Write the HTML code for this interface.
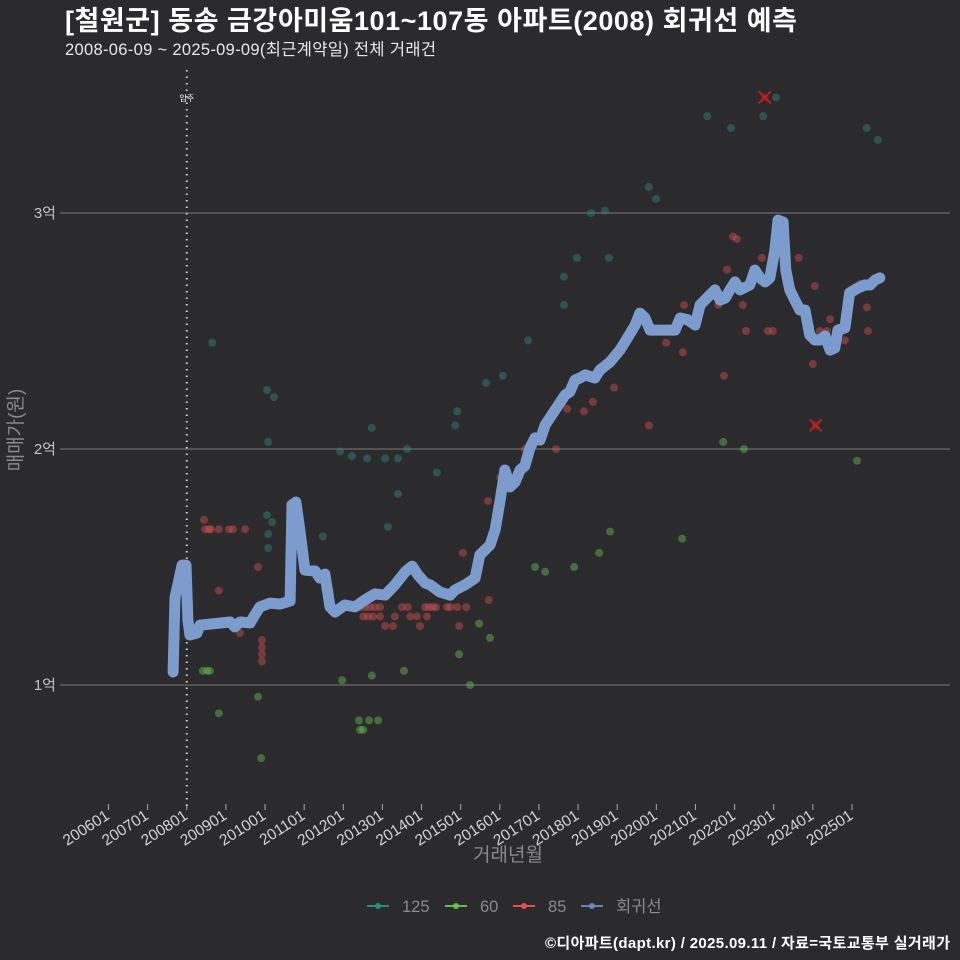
<!DOCTYPE html>
<html><head><meta charset="utf-8">
<style>
html,body{margin:0;padding:0;background:#2b2b2d;}
svg{display:block;font-family:"Liberation Sans","Noto Sans CJK KR",sans-serif;}
</style></head>
<body>
<svg id="chart" width="960" height="960" viewBox="0 0 960 960">
<rect width="960" height="960" fill="#2b2b2d"/>
<text x="65" y="30" fill="#ffffff" font-size="27" font-weight="bold" textLength="732">[철원군] 동송 금강아미움101~107동 아파트(2008) 회귀선 예측</text>
<text x="65" y="55" fill="#e8e8e8" font-size="16.5" textLength="371">2008-06-09 ~ 2025-09-09(최근계약일) 전체 거래건</text>
<g id="grid"></g>
<g id="yticks"></g>
<g id="xticks"></g>
<g id="marks"></g>
<text transform="translate(22,430) rotate(-90)" text-anchor="middle" fill="#8a8a8a" font-size="19">매매가(원)</text>
<text x="508" y="861" text-anchor="middle" fill="#8a8a8a" font-size="19">거래년월</text>
<g id="legend"></g>
<text x="950" y="948" text-anchor="end" fill="#ffffff" font-size="15" font-weight="bold" textLength="405">©디아파트(dapt.kr) / 2025.09.11 / 자료=국토교통부 실거래가</text>
</svg>
<script>
const yTicks=[1,2,3];
const yTickLabels=["1억","2억","3억"];
const xTicks=[2006,2007,2008,2009,2010,2011,2012,2013,2014,2015,2016,2017,2018,2019,2020,2021,2022,2023,2024,2025];
const xTickLabels=["200601","200701","200801","200901","201001","201101","201201","201301","201401","201501","201601","201701","201801","201901","202001","202101","202201","202301","202401","202501"];
const moveInYear=2008.0;
const lineX=[2007.65,2007.70,2007.88,2007.98,2008.03,2008.08,2008.26,2008.34,2009.11,2009.23,2009.36,2009.62,2009.74,2009.87,2010.13,2010.38,2010.64,2010.69,2010.79,2010.89,2011.02,2011.28,2011.40,2011.53,2011.66,2011.79,2012.04,2012.30,2012.55,2012.81,2013.07,2013.32,2013.58,2013.76,2013.91,2014.09,2014.22,2014.47,2014.73,2014.86,2015.11,2015.37,2015.49,2015.75,2015.88,2016.01,2016.13,2016.26,2016.39,2016.52,2016.64,2016.77,2016.90,2017.03,2017.16,2017.41,2017.67,2017.79,2017.92,2018.05,2018.18,2018.43,2018.56,2018.82,2019.07,2019.28,2019.46,2019.58,2019.71,2019.84,2020.22,2020.48,2020.61,2020.81,2020.99,2021.12,2021.37,2021.50,2021.63,2021.76,2021.88,2022.01,2022.14,2022.39,2022.52,2022.65,2022.78,2022.90,2023.03,2023.11,2023.24,2023.31,2023.41,2023.54,2023.67,2023.80,2023.92,2024.05,2024.18,2024.31,2024.44,2024.56,2024.64,2024.82,2024.94,2025.15,2025.33,2025.46,2025.59,2025.71];
const lineY=[1.055,1.369,1.508,1.508,1.275,1.212,1.220,1.254,1.267,1.246,1.267,1.263,1.297,1.331,1.347,1.343,1.356,1.763,1.775,1.657,1.487,1.483,1.453,1.470,1.331,1.309,1.339,1.331,1.360,1.386,1.381,1.424,1.479,1.504,1.466,1.432,1.424,1.394,1.381,1.403,1.424,1.453,1.551,1.593,1.657,1.784,1.911,1.839,1.860,1.911,1.928,2.004,2.047,2.038,2.102,2.165,2.229,2.242,2.292,2.301,2.314,2.301,2.335,2.369,2.419,2.475,2.525,2.576,2.555,2.504,2.504,2.504,2.555,2.547,2.525,2.610,2.653,2.674,2.631,2.640,2.674,2.708,2.674,2.695,2.758,2.725,2.708,2.725,2.843,2.970,2.962,2.758,2.674,2.631,2.589,2.589,2.483,2.462,2.462,2.479,2.419,2.428,2.504,2.513,2.661,2.682,2.695,2.695,2.716,2.725];
const s125X=[2008.65,2010.05,2010.23,2010.08,2010.05,2010.18,2010.08,2010.08,2011.48,2011.92,2012.22,2012.61,2012.73,2013.07,2013.14,2013.40,2013.40,2013.63,2014.39,2014.86,2014.91,2015.65,2016.08,2016.72,2017.64,2017.64,2017.97,2018.33,2018.69,2018.79,2019.81,2019.99,2021.30,2021.91,2022.73,2023.06,2025.38,2025.66];
const s125Y=[2.45,2.25,2.22,2.03,1.72,1.69,1.64,1.58,1.63,1.99,1.97,1.96,2.09,1.96,1.67,1.96,1.81,2.00,1.90,2.10,2.16,2.28,2.31,2.46,2.73,2.61,2.81,3.00,3.01,2.81,3.11,3.06,3.41,3.36,3.41,3.49,3.36,3.31];
const s60X=[2008.41,2008.52,2008.59,2008.82,2009.82,2009.90,2011.97,2012.40,2012.43,2012.51,2012.66,2012.73,2012.89,2013.55,2014.96,2015.24,2015.47,2015.75,2016.90,2017.16,2017.90,2018.54,2018.82,2020.66,2021.71,2022.24,2025.13];
const s60Y=[1.06,1.06,1.06,0.88,0.95,0.69,1.02,0.85,0.81,0.81,0.85,1.04,0.85,1.06,1.13,1.00,1.26,1.20,1.50,1.48,1.50,1.56,1.65,1.62,2.03,2.00,1.95];
const s85X=[2008.44,2008.47,2008.57,2008.62,2008.82,2009.08,2009.18,2009.49,2008.82,2009.36,2009.82,2009.92,2009.92,2009.92,2009.92,2012.43,2012.56,2012.68,2012.81,2012.94,2012.51,2012.63,2012.76,2012.94,2013.07,2013.27,2013.32,2013.50,2013.65,2013.71,2013.88,2013.96,2014.09,2014.19,2014.29,2014.37,2014.65,2014.73,2014.91,2015.14,2014.14,2014.96,2015.06,2015.72,2015.70,2016.01,2016.64,2017.44,2017.72,2018.15,2018.38,2018.92,2019.81,2020.25,2020.68,2020.71,2021.58,2021.73,2021.81,2021.96,2022.06,2022.21,2022.29,2022.70,2022.85,2022.98,2023.64,2024.00,2024.05,2024.18,2024.36,2024.44,2024.82,2025.21,2025.38,2025.41];
const s85Y=[1.70,1.66,1.66,1.66,1.66,1.66,1.66,1.66,1.40,1.22,1.50,1.19,1.16,1.13,1.10,1.33,1.33,1.33,1.33,1.33,1.29,1.29,1.29,1.29,1.25,1.25,1.29,1.33,1.33,1.29,1.29,1.25,1.33,1.33,1.33,1.33,1.33,1.33,1.33,1.33,1.29,1.25,1.56,1.36,1.78,1.88,2.00,2.00,2.17,2.16,2.20,2.26,2.10,2.45,2.41,2.61,2.61,2.31,2.76,2.90,2.89,2.61,2.50,2.81,2.50,2.50,2.81,2.36,2.69,2.50,2.50,2.55,2.46,2.70,2.60,2.50];
const outlierX=[2022.77,2024.07];
const outlierY=[3.49,2.10];

const NS="http://www.w3.org/2000/svg";
function xs(t){return 108.5+(t-2006)*39.13;}
function ys(v){return 685-(v-1)*236;}
function mk(tag,attrs,parent){const e=document.createElementNS(NS,tag);for(const k in attrs)e.setAttribute(k,attrs[k]);parent.appendChild(e);return e;}
const grid=document.getElementById('grid'),yt=document.getElementById('yticks'),xt=document.getElementById('xticks'),marks=document.getElementById('marks'),lg=document.getElementById('legend');
yTicks.forEach((v,i)=>{
  const l=mk('line',{x1:60,x2:950,y1:ys(v),y2:ys(v),stroke:'#6a6a6a','stroke-width':1.2},grid);
  
  
  const t=mk('text',{x:56,y:ys(v)+5,'text-anchor':'end',fill:'#c4c4c4','font-size':15},yt);
  t.textContent=yTickLabels[i];
  
  
});
xTicks.forEach((v,i)=>{
  const x=xs(v);
  const tk=mk('line',{x1:x,x2:x,y1:804,y2:810,stroke:'#aaaaaa','stroke-width':1},xt);
  
  
  const t=mk('text',{transform:`translate(${x+2},${818}) rotate(-33)`,'text-anchor':'end',fill:'#d4d4d4','font-size':15.5},xt);
  t.textContent=xTickLabels[i];
  
  
});
const ml=mk('line',{x1:xs(moveInYear),x2:xs(moveInYear),y1:70,y2:806,stroke:'#cfcfcf','stroke-width':2,'stroke-dasharray':'1.5 5'},marks);


const mt=mk('text',{x:xs(moveInYear),y:101,'text-anchor':'middle',fill:'#ffffff','font-size':8},marks);
mt.textContent='입주';


function pts(X,Y,color,name,op){
  X.forEach((x,i)=>{
    const c=mk('circle',{cx:xs(x),cy:ys(Y[i]),r:4,fill:color,'fill-opacity':op},marks);
    
    
  });
}
pts(s125X,s125Y,'#2e8a80','point-125',0.45);
pts(s60X,s60Y,'#66c04f','point-60',0.45);
pts(s85X,s85Y,'#e05050','point-85',0.42);
const d=lineX.map((x,i)=>(i?'L':'M')+xs(x).toFixed(1)+','+ys(lineY[i]).toFixed(1)).join(' ');
const rl=mk('path',{d:d,fill:'none',stroke:'#7b9ccc','stroke-width':11,'stroke-linejoin':'round','stroke-linecap':'round'},marks);


outlierX.forEach((x,i)=>{
  const cx=xs(x),cy=ys(outlierY[i]);
  const g=mk('g',{},marks);
  
  
  mk('circle',{cx:cx,cy:cy,r:4,fill:'#902020','fill-opacity':0.7},g);
  mk('path',{d:`M${cx-6},${cy-6}L${cx+6},${cy+6}M${cx-6},${cy+6}L${cx+6},${cy-6}`,stroke:'#c82020','stroke-width':1.8},g);
});
const legItems=[['125','#2e8a80',367],['60','#66c04f',445],['85','#e05050',513],['회귀선','#6a86b0',581]];
legItems.forEach(([lab,col,x])=>{
  const g=mk('g',{},lg);
  
  
  mk('line',{x1:x,x2:x+22,y1:906,y2:906,stroke:col,'stroke-width':2},g);
  mk('circle',{cx:x+11,cy:906,r:3,fill:col},g);
  const t=mk('text',{x:x+35,y:912,fill:'#8a8a8a','font-size':16.5},g);
  t.textContent=lab;
});
</script>
</body></html>
